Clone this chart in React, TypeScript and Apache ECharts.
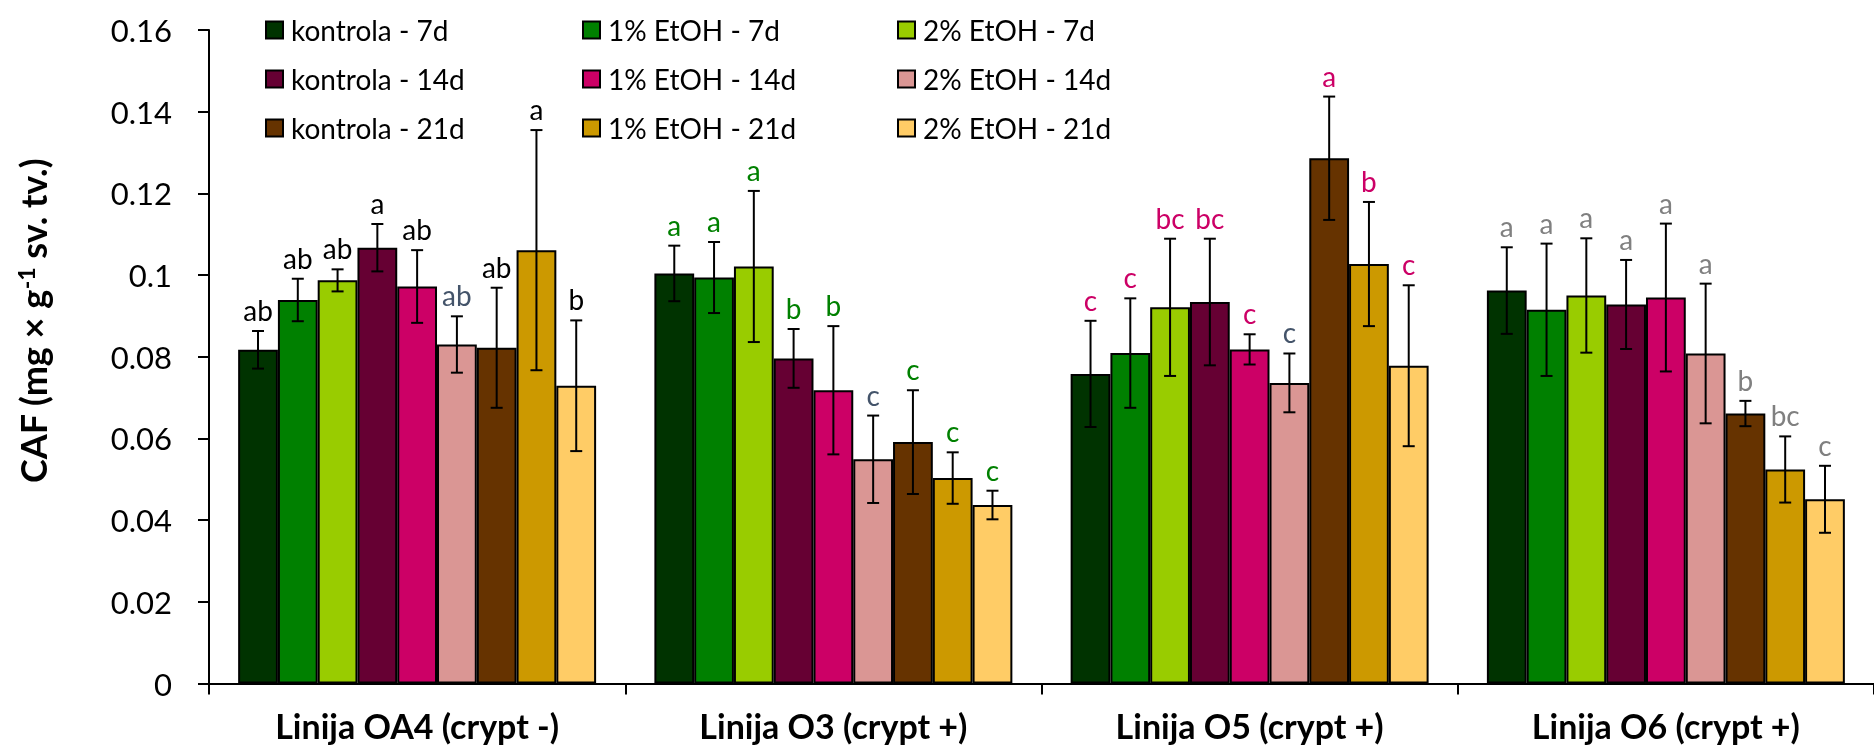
import React, { useEffect, useRef } from "react";
import * as echarts from "echarts";

const categories = ["Linija OA4 (crypt -)", "Linija O3 (crypt +)", "Linija O5 (crypt +)", "Linija O6 (crypt +)"];
const seriesNames = [
  "kontrola - 7d", "1% EtOH - 7d", "2% EtOH - 7d",
  "kontrola - 14d", "1% EtOH - 14d", "2% EtOH - 14d",
  "kontrola - 21d", "1% EtOH - 21d", "2% EtOH - 21d",
];
const seriesColors = ["#003300", "#008000", "#99CC00", "#660033", "#CC0066", "#DA9694", "#663300", "#CC9900", "#FFCC66"];

const kontrola7 = [0.0817, 0.1004, 0.0758, 0.0962];
const etoh1_7 = [0.0939, 0.0994, 0.0809, 0.0915];
const etoh2_7 = [0.0987, 0.1021, 0.0921, 0.095];
const kontrola14 = [0.1067, 0.0796, 0.0934, 0.0928];
const etoh1_14 = [0.0972, 0.0718, 0.0818, 0.0945];
const etoh2_14 = [0.083, 0.0549, 0.0736, 0.0808];
const kontrola21 = [0.0822, 0.0591, 0.1286, 0.0661];
const etoh1_21 = [0.1061, 0.0503, 0.1027, 0.0524];
const etoh2_21 = [0.0729, 0.0437, 0.0778, 0.0451];
const values = [kontrola7, etoh1_7, etoh2_7, kontrola14, etoh1_14, etoh2_14, kontrola21, etoh1_21, etoh2_21];

const errKontrola7 = [0.0046, 0.0068, 0.013, 0.0106];
const errEtoh1_7 = [0.0052, 0.0087, 0.0134, 0.0162];
const errEtoh2_7 = [0.0027, 0.0185, 0.0168, 0.014];
const errKontrola14 = [0.0058, 0.0072, 0.0155, 0.0109];
const errEtoh1_14 = [0.0089, 0.0157, 0.0037, 0.0181];
const errEtoh2_14 = [0.0069, 0.0107, 0.0072, 0.0171];
const errKontrola21 = [0.0147, 0.0127, 0.0151, 0.0031];
const errEtoh1_21 = [0.0294, 0.0063, 0.0152, 0.0081];
const errEtoh2_21 = [0.016, 0.0035, 0.0197, 0.0082];
const errors = [errKontrola7, errEtoh1_7, errEtoh2_7, errKontrola14, errEtoh1_14, errEtoh2_14, errKontrola21, errEtoh1_21, errEtoh2_21];

const letters = [
  ["ab", "a", "c", "a"],
  ["ab", "a", "c", "a"],
  ["ab", "a", "bc", "a"],
  ["a", "b", "bc", "a"],
  ["ab", "b", "c", "a"],
  ["ab", "c", "c", "a"],
  ["ab", "c", "a", "b"],
  ["a", "c", "b", "bc"],
  ["b", "c", "c", "c"],
];
const groupLetterColors = ["#000000", "#008000", "#CC0066", "#808080"];
const altLetterColor = "#44546A";
const letterColorOf = (si: number, ci: number) =>
  si === 5 && ci < 3 ? altLetterColor : groupLetterColors[ci];

const yTicks = { min: 0, max: 0.16, interval: 0.02 };

const N = seriesNames.length;
const CAT_GAP = 0.14;

export default function App() {
  const ref = useRef<HTMLDivElement>(null);
  useEffect(() => {
    if (!ref.current) return;
    const chart = echarts.init(ref.current, null, { renderer: "svg" });

    const errData: number[][] = [];
    values.forEach((arr, si) => {
      arr.forEach((v, ci) => errData.push([ci, si, v, errors[si][ci]]));
    });

    const barSeries = values.map((arr, si) => ({
      name: seriesNames[si],
      type: "bar",
      data: arr,
      barGap: "0%",
      barCategoryGap: CAT_GAP * 100 + "%",
      itemStyle: { color: seriesColors[si], borderColor: "#000", borderWidth: 2 },
      emphasis: { disabled: true },
    }));

    const legendCommon = {
      orient: "vertical",
      top: 16,
      padding: 0,
      itemWidth: 17,
      itemHeight: 17,
      itemGap: 21,
      icon: "rect",
      selectedMode: false,
      itemStyle: { borderColor: "#000", borderWidth: 2 },
      textStyle: { fontFamily: "Lato", fontSize: 28, color: "#000", lineHeight: 28, padding: [0, 0, 0, 3] },
    };

    chart.setOption({
      animation: false,
      grid: { left: 209, top: 30, width: 1675, height: 653.5 },
      legend: [
        { ...legendCommon, left: 265, data: [seriesNames[0], seriesNames[3], seriesNames[6]] },
        { ...legendCommon, left: 582, data: [seriesNames[1], seriesNames[4], seriesNames[7]] },
        { ...legendCommon, left: 897, data: [seriesNames[2], seriesNames[5], seriesNames[8]] },
      ],
      xAxis: {
        type: "category",
        data: categories,
        axisLine: { show: true, lineStyle: { color: "#000", width: 2 } },
        axisTick: { show: true, length: 11, lineStyle: { color: "#000", width: 2 } },
        axisLabel: { interval: 0, fontFamily: "Lato", fontWeight: "bold", fontSize: 34, color: "#000", margin: 25 },
      },
      yAxis: {
        type: "value",
        min: yTicks.min,
        max: yTicks.max,
        interval: yTicks.interval,
        axisLine: { show: true, lineStyle: { color: "#000", width: 2 } },
        axisTick: { show: true, length: 11, lineStyle: { color: "#000", width: 2 } },
        splitLine: { show: false },
        axisLabel: {
          fontFamily: "Lato",
          fontSize: 31,
          color: "#000",
          margin: 37,
          formatter: (v: number) => String(+v.toFixed(2)),
        },
      },
      graphic: [
        {
          type: "text",
          x: 33,
          y: 321,
          rotation: Math.PI / 2,
          style: {
            text: "{b|CAF (mg × g}{s|-1}{b| sv. tv.)}",
            align: "center",
            verticalAlign: "middle",
            rich: {
              b: { fontFamily: "Lato", fontWeight: "bold", fontSize: 36, fill: "#000", lineHeight: 38 },
              s: { fontFamily: "Lato", fontWeight: "bold", fontSize: 23, fill: "#000", verticalAlign: "top", lineHeight: 38 },
            },
          },
        },
      ],
      series: [
        ...barSeries,
        {
          type: "custom",
          name: "err",
          z: 10,
          data: errData,
          encode: { x: 0, y: 2 },
          renderItem: (params: any, api: any) => {
            const ci = api.value(0);
            const si = api.value(1);
            const v = api.value(2);
            const e = api.value(3);
            const band = api.size([1, 0])[0];
            const bw = (band * (1 - CAT_GAP)) / N;
            const x = api.coord([ci, 0])[0] + (si - (N - 1) / 2) * bw;
            const yt = api.coord([ci, v + e])[1];
            const yb = api.coord([ci, v - e])[1];
            const ls = { stroke: "#000", lineWidth: 2 };
            return {
              type: "group",
              children: [
                { type: "line", shape: { x1: x, y1: yt, x2: x, y2: yb }, style: ls },
                { type: "line", shape: { x1: x - 6, y1: yt, x2: x + 6, y2: yt }, style: ls },
                { type: "line", shape: { x1: x - 6, y1: yb, x2: x + 6, y2: yb }, style: ls },
                {
                  type: "text",
                  x: x,
                  y: yt - 7,
                  style: {
                    text: letters[si][ci],
                    fill: letterColorOf(si, ci),
                    fontFamily: "Lato",
                    fontSize: 28,
                    align: "center",
                    verticalAlign: "bottom",
                  },
                },
              ],
            };
          },
        },
      ],
    });
    return () => chart.dispose();
  }, []);
  return <div ref={ref} style={{ position: "fixed", left: 0, top: 0, width: 1874, height: 749 }} />;
}
